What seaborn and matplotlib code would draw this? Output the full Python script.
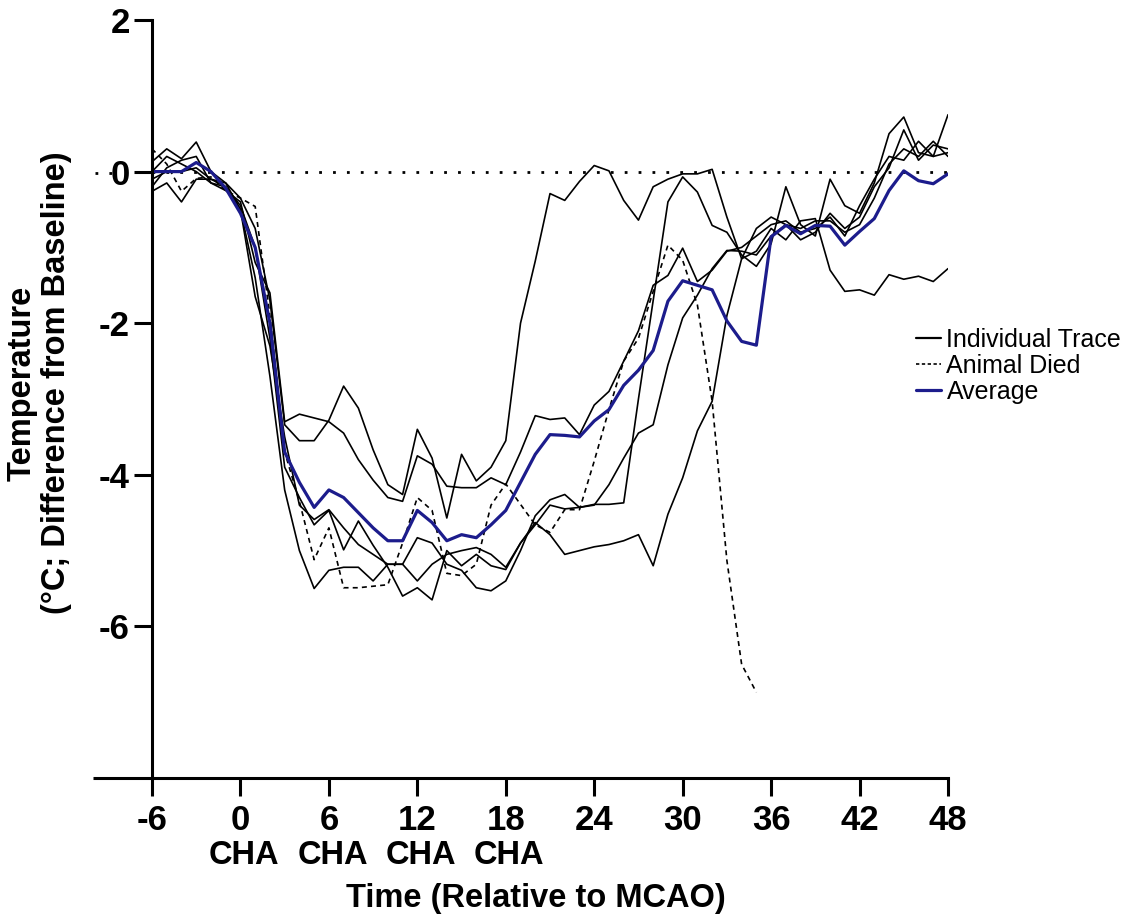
import matplotlib
matplotlib.use("Agg")
import matplotlib.pyplot as plt
import matplotlib.transforms as mtransforms
from matplotlib.lines import Line2D
import seaborn as sns

# ---------------- data ----------------
hours = list(range(-6, 49))

trace_a = [0.13, 0.3, 0.17, 0.39, 0.0, -0.15, -0.35, -0.75, -1.7, -3.34,
           -3.55, -3.55, -3.28, -2.83, -3.12, -3.67, -4.13, -4.26, -3.4, -3.78,
           -4.57, -3.73, -4.08, -3.9, -3.55, -2.0, -1.18, -0.29, -0.38, -0.13,
           0.08, 0.01, -0.38, -0.64, -0.2, -0.1, -0.03, -0.03, 0.03, -0.6,
           -1.15, -1.05, -0.75, -0.9, -0.65, -0.62, -1.3, -1.58, -1.56, -1.63,
           -1.36, -1.42, -1.38, -1.45, -1.28]
trace_c = [-0.26, -0.15, -0.4, -0.1, -0.1, -0.2, -0.45, -1.0, -2.2, -3.9,
           -4.3, -4.66, -4.47, -4.99, -4.61, -4.93, -5.22, -5.6, -5.49, -5.65,
           -5.0, -5.2, -5.05, -5.2, -5.25, -4.9, -4.66, -4.4, -4.45, -4.43,
           -4.39, -4.39, -4.37, -3.0, -1.7, -0.4, -0.07, -0.27, -0.71, -0.8,
           -1.1, -1.25, -0.95, -0.2, -0.7, -0.85, -0.1, -0.45, -0.55, -0.15,
           0.5, 0.72, 0.25, 0.2, 0.25]
trace_d = [-0.2, 0.05, 0.15, 0.2, -0.15, -0.2, -0.5, -1.4, -2.7, -4.2,
           -5.0, -5.5, -5.26, -5.22, -5.22, -5.4, -5.18, -5.18, -5.4, -5.18,
           -5.05, -5.0, -4.96, -5.05, -5.22, -4.9, -4.63, -4.79, -5.05, -5.0,
           -4.95, -4.92, -4.87, -4.79, -5.2, -4.52, -4.04, -3.42, -3.03, -1.9,
           -1.15, -0.75, -0.6, -0.7, -0.9, -0.8, -0.55, -0.75, -0.6, -0.2,
           0.05, 0.55, 0.15, 0.35, 0.3]
trace_e = [0.0, 0.2, 0.1, 0.0, -0.15, -0.25, -0.4, -1.2, -1.6, -3.3,
           -3.2, -3.25, -3.3, -3.45, -3.8, -4.07, -4.3, -4.35, -3.75, -3.86,
           -4.15, -4.17, -4.17, -4.04, -4.13, -3.7, -3.22, -3.27, -3.25, -3.47,
           -3.08, -2.9, -2.5, -2.1, -1.5, -1.37, -1.01, -1.45, -1.3, -1.05,
           -1.0, -0.85, -0.7, -0.65, -0.8, -0.75, -0.6, -0.85, -0.45, -0.1,
           0.2, 0.15, 0.4, 0.2, 0.75]
trace_f = [-0.1, 0.0, 0.0, 0.05, -0.1, -0.15, -0.5, -1.65, -2.3, -3.5,
           -4.4, -4.59, -4.46, -4.7, -4.92, -5.05, -5.18, -5.18, -4.83, -4.9,
           -5.18, -5.26, -5.49, -5.53, -5.4, -5.0, -4.54, -4.33, -4.26, -4.43,
           -4.4, -4.13, -3.78, -3.45, -3.34, -2.55, -1.93, -1.63, -1.28, -1.04,
           -1.05, -1.1, -0.85, -0.7, -0.75, -0.65, -0.65, -0.8, -0.7, -0.35,
           0.1, 0.3, 0.2, 0.4, 0.2]
# animal that died (dashed) - recorded until hour 35
died_hours = list(range(-6, 36))
trace_died = [0.3, 0.1, -0.26, -0.09, -0.07, -0.25, -0.35, -0.46, -1.9, -3.7,
              -4.35, -5.12, -4.7, -5.49, -5.49, -5.47, -5.45, -4.9, -4.3, -4.47,
              -5.3, -5.33, -5.18, -4.4, -4.12, -4.39, -4.66, -4.76, -4.46, -4.46,
              -3.82, -3.14, -2.5, -2.2, -1.58, -0.97, -1.17, -1.76, -3.03, -5.13,
              -6.5, -6.87]
average = [0.0, 0.0, 0.0, 0.12, 0.0, -0.22, -0.55, -1.0, -2.0, -3.7,
           -4.1, -4.43, -4.2, -4.3, -4.5, -4.7, -4.87, -4.87, -4.47, -4.63,
           -4.87, -4.79, -4.83, -4.66, -4.47, -4.1, -3.73, -3.47, -3.48, -3.5,
           -3.29, -3.14, -2.82, -2.62, -2.36, -1.71, -1.44, -1.5, -1.56, -1.97,
           -2.24, -2.29, -0.86, -0.71, -0.82, -0.71, -0.72, -0.97, -0.79, -0.62,
           -0.25, 0.01, -0.12, -0.16, -0.03]

x_ticks = [-6, 0, 6, 12, 18, 24, 30, 36, 42, 48]
y_ticks = [-6, -4, -2, 0, 2]
cha_hours = [0, 6, 12, 18]
legend_labels = ["Individual Trace", "Animal Died", "Average"]

# ---------------- style ----------------
sns.set_theme(style="ticks")
plt.rcParams["font.family"] = ["Liberation Sans", "DejaVu Sans"]
plt.rcParams["text.color"] = "black"
plt.rcParams["axes.labelcolor"] = "black"
plt.rcParams["xtick.color"] = "black"
plt.rcParams["ytick.color"] = "black"

W, H = 1124, 924
fig = plt.figure(figsize=(W / 100, H / 100), dpi=100)
ax = fig.add_axes([152 / W, 1 - 778 / H, (948 - 152) / W, (778 - 20) / H])

navy = "#1c1c8c"
for tr in [trace_a, trace_c, trace_d, trace_e, trace_f]:
    sns.lineplot(x=hours, y=tr, ax=ax, color="black", linewidth=1.2)
sns.lineplot(x=died_hours, y=trace_died, ax=ax, color="black", linewidth=1.2,
             linestyle=(0, (3, 2.5)))
sns.lineplot(x=hours, y=average, ax=ax, color=navy, linewidth=2.3)

# zero reference line (dotted)
ax.axhline(0, color="black", linewidth=2, linestyle=(0, (1, 4)), zorder=0)
fig.add_artist(Line2D([95 / W, 112 / W], [1 - 173 / H] * 2, color="black",
                      linewidth=2, linestyle=(0, (1, 4))))

ax.set_xlim(-6, 48)
ax.set_ylim(-8, 2)
ax.set_xticks(x_ticks)
ax.set_yticks(y_ticks)
ax.set_xticklabels([str(v) for v in x_ticks])
ax.set_yticklabels([str(v) for v in y_ticks])
for lab in ax.get_xticklabels() + ax.get_yticklabels():
    lab.set_fontweight("bold")
    lab.set_fontsize(25)
    lab.set_color("black")
ax.tick_params(axis="both", direction="out", length=13, width=2.2,
               color="black", labelcolor="black")
ax.tick_params(axis="x", pad=6)
ax.tick_params(axis="y", pad=3)
ax.set_xlabel("")
ax.set_ylabel("")

for s in ["top", "right"]:
    ax.spines[s].set_visible(False)
for s in ["left", "bottom"]:
    ax.spines[s].set_linewidth(2.2)
    ax.spines[s].set_color("black")
# x-axis line extends left of the y axis
fig.add_artist(Line2D([93 / W, 153 / W], [1 - 778 / H] * 2, color="black",
                      linewidth=2.2, solid_capstyle="butt"))

# CHA annotations under the first four hour ticks
cha_tr = mtransforms.offset_copy(ax.get_xaxis_transform(), fig=fig,
                                 x=3.5, y=0, units="dots")
for h in cha_hours:
    ax.text(h, -0.1016, "CHA", transform=cha_tr,
            ha="center", va="center", fontsize=23.5, fontweight="bold",
            color="black")

fig.text(536 / W, 1 - 898 / H, "Time (Relative to MCAO)", ha="center",
         va="center", fontsize=23.5, fontweight="bold", color="black")
fig.text(39 / W, 1 - 383 / H, "Temperature\n(°C; Difference from Baseline)",
         rotation=90, ha="center", va="center", fontsize=23.5,
         fontweight="bold", multialignment="center", linespacing=1.15,
         color="black")

handles = [Line2D([], [], color="black", linewidth=1.6),
           Line2D([], [], color="black", linewidth=1.2, linestyle=(0, (2, 1.5))),
           Line2D([], [], color=navy, linewidth=2.3)]
ax.legend(handles, legend_labels, loc="upper left",
          bbox_to_anchor=(916 / W, 1 - 328 / H), bbox_transform=fig.transFigure,
          frameon=False, fontsize=18, handlelength=1.0, handletextpad=0.22,
          labelspacing=0.08, borderpad=0, borderaxespad=0)

fig.savefig("out.png", dpi=100)
